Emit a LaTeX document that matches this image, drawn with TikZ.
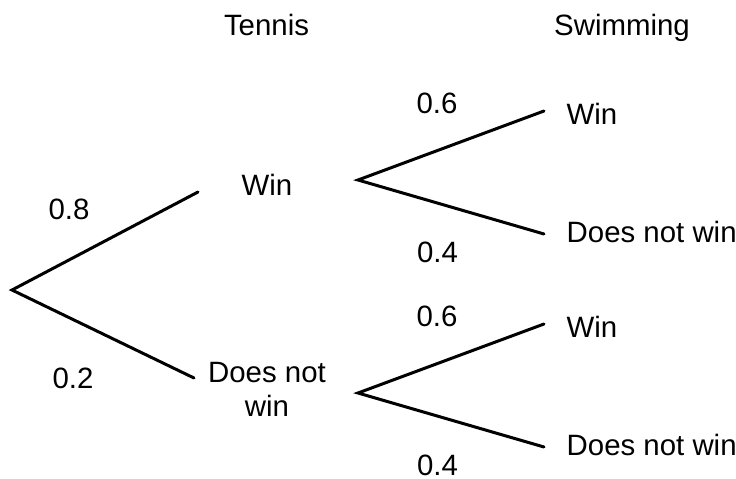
\documentclass[tikz,border=0pt]{standalone}
\usepackage{fontspec}
\setmainfont{Liberation Sans}
\usepackage{tikz}
\tikzset{branch/.style={draw,line width=3pt,line cap=round}}
\tikzset{label/.style={inner sep=0pt,anchor=base,font=\fontsize{29.4}{34}\selectfont}}
\tikzset{outcome/.style={label,anchor=base west}}
\tikzset{prob/.style={label}}

\begin{document}
\begin{tikzpicture}[x=1pt,y=-1pt]
    \useasboundingbox (0,0) rectangle (736,479);

    \node[label] (tennis) at (266.5,35) {Tennis};
    \node[label] (swimming) at (622,35) {Swimming};

    \coordinate (root) at (12,290);
    \coordinate (tW) at (198,192);
    \coordinate (tD) at (194,378);
    \node[label] (tWin) at (267,195) {Win};
    \node[label,anchor=north,align=center] (tDnw) at (267,362.5) {Does not\\win};
    \node[prob] (p08) at (69,219) {0.8};
    \node[prob] (p02) at (73,388) {0.2};
    \draw[branch] (tW) -- (root) -- (tD);

    \foreach \t/\y in {W/180,D/393}{
        \coordinate (s\t) at (358,\y);
        \coordinate (s\t W) at (544,\y-69);
        \coordinate (s\t D) at (544,\y+54);
        \node[outcome] (s\t Win) at (566.5,\y-56) {Win};
        \node[outcome] (s\t Dnw) at (566.5,\y+62.5) {Does not win};
        \node[prob] (s\t p06) at (437,\y-66.5) {0.6};
        \node[prob] (s\t p04) at (437.5,\y+82) {0.4};
        \draw[branch] (s\t W) -- (s\t) -- (s\t D);
    }

\end{tikzpicture}
\end{document}
